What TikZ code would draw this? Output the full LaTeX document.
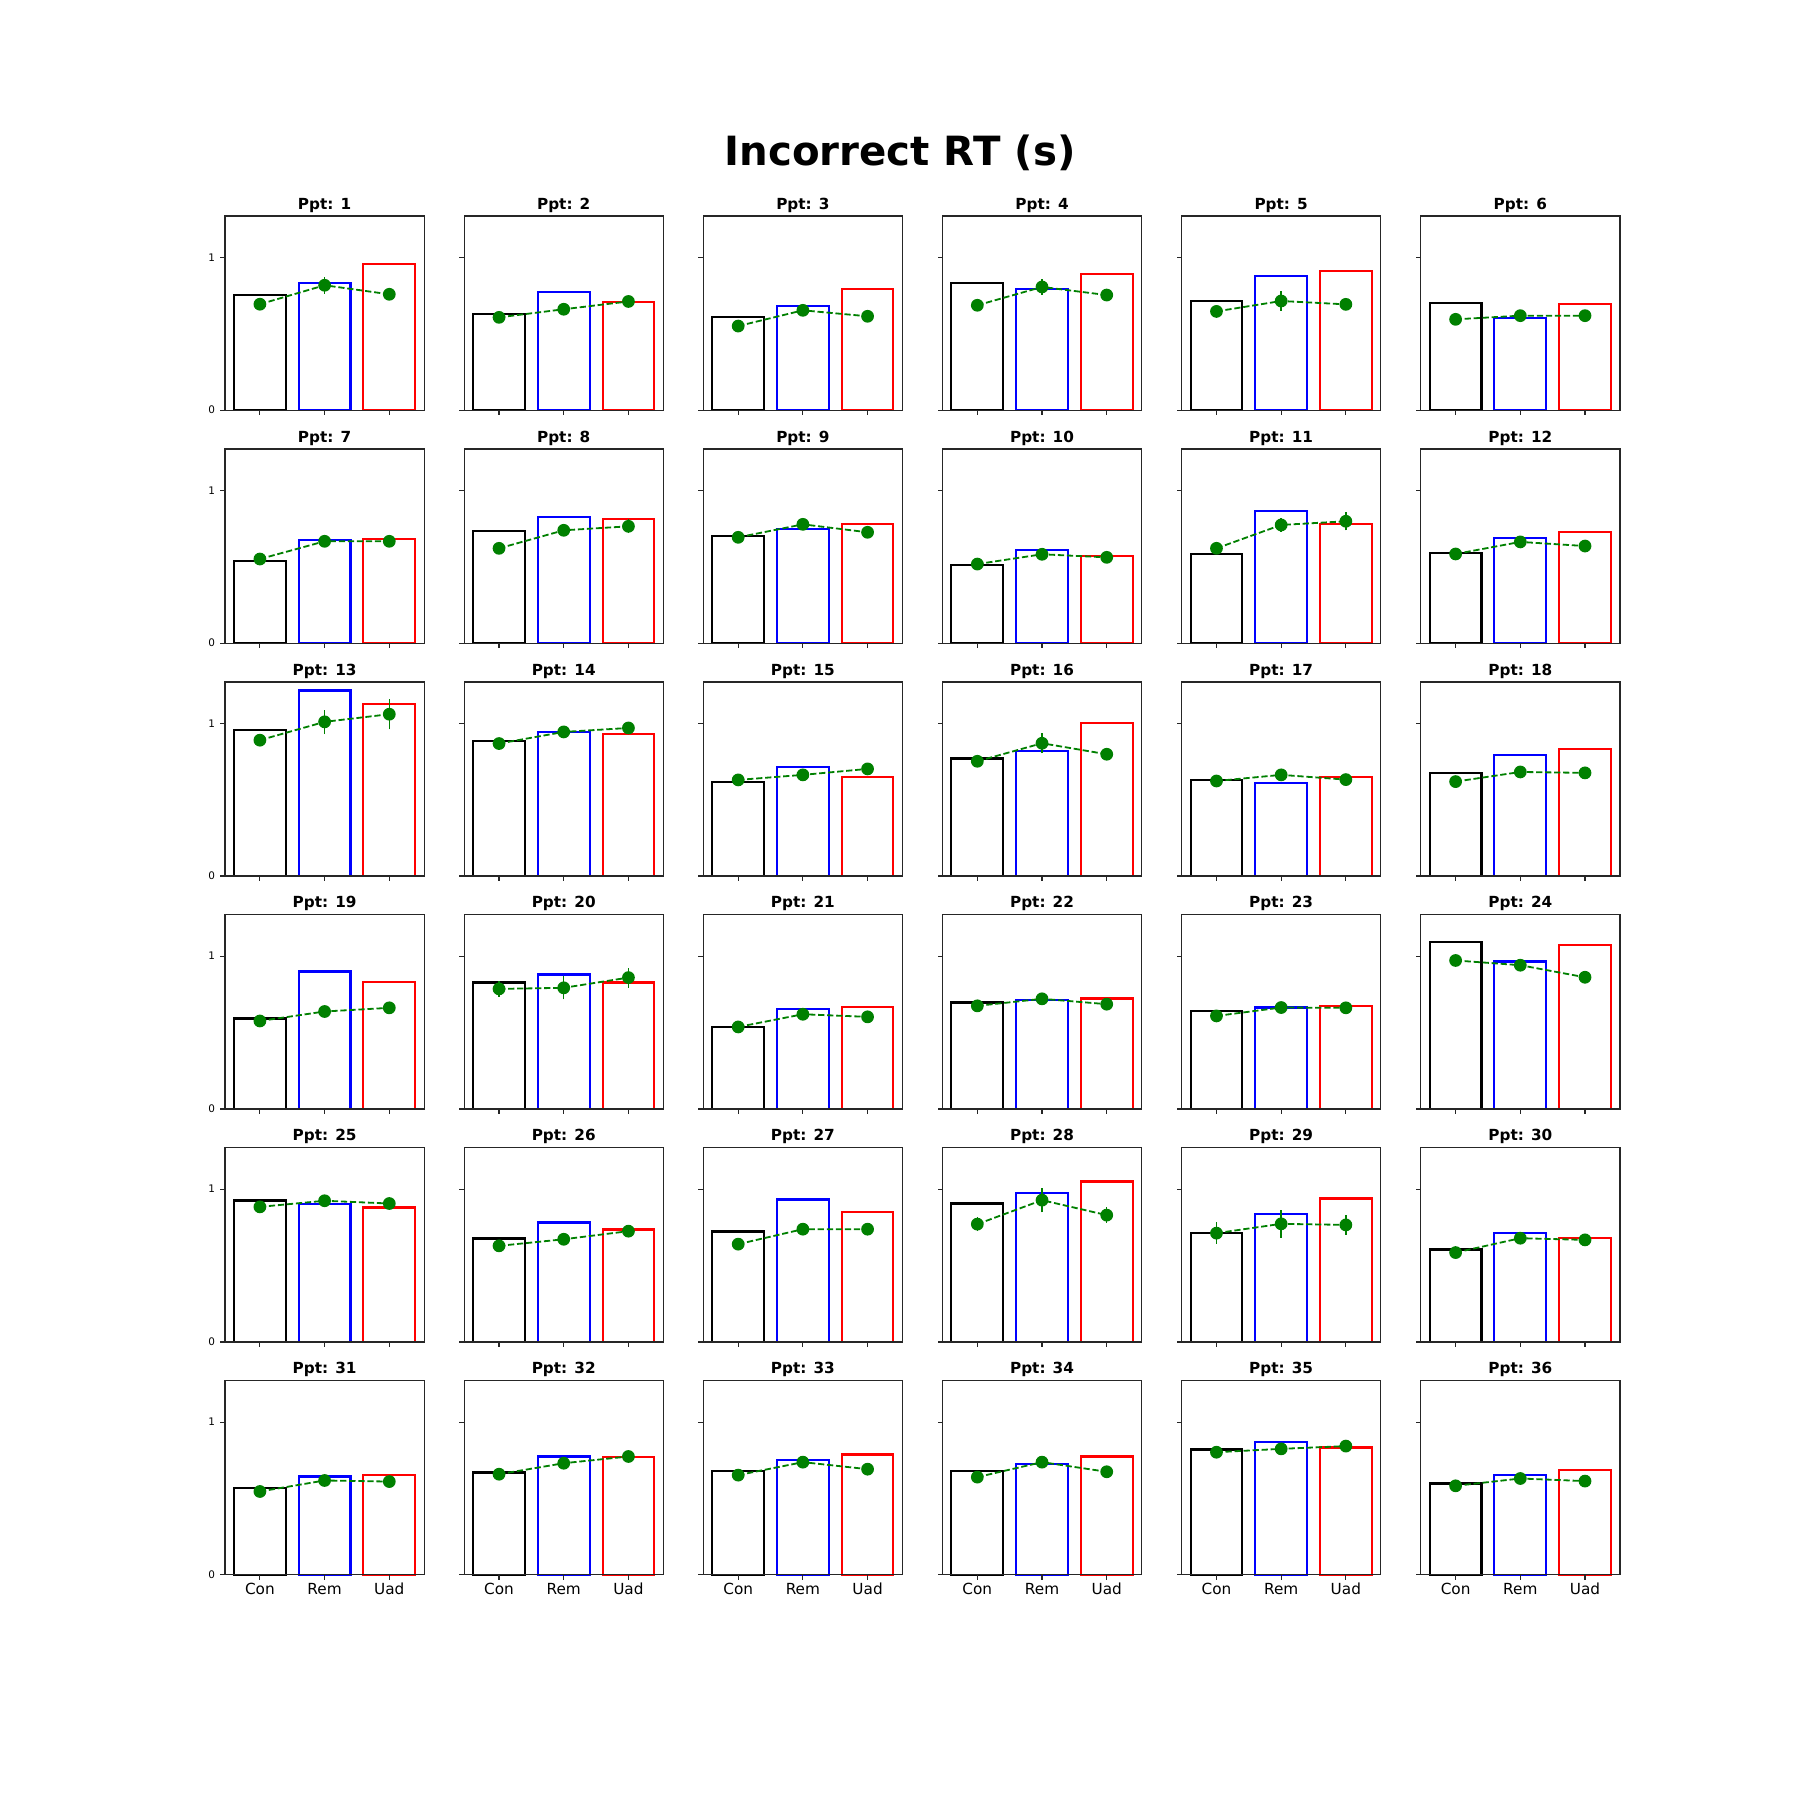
\documentclass[tikz,border=0pt]{standalone}
\usepackage{fontspec}
\setmainfont{DejaVu Sans}
\definecolor{ptgreen}{HTML}{008000}

\begin{document}
\begin{tikzpicture}[x=0.72pt,y=-0.72pt]
        \tikzset{axframe/.style={draw=black!85, line width=0.8pt},
        conbar/.style={draw=black, line width=1.5pt},
        rembar/.style={draw=blue, line width=1.5pt},
        uadbar/.style={draw=red, line width=1.5pt},
        meanline/.style={draw=ptgreen, line width=1.3pt, dash pattern=on 4.5pt off 2pt},
        errbar/.style={draw=ptgreen, line width=1pt},
        meandot/.style={fill=ptgreen},
        suptitle/.style={anchor=base, inner sep=0pt, font=\fontsize{29}{35}\selectfont\bfseries},
        paneltitle/.style={anchor=base, inner sep=0pt, yshift=5pt, font=\fontsize{11}{13}\selectfont\bfseries},
        ylab/.style={anchor=east, inner sep=0pt, xshift=-7pt, font=\fontsize{7.5}{9}\selectfont},
        xlab/.style={anchor=base, inner sep=0pt, yshift=-13.9pt, font=\fontsize{11}{13}\selectfont}
        }
        \path[fill=white, use as bounding box] (0,0) rectangle (1800,1800);
        \node[suptitle] (title) at (900,165) {Incorrect RT (s)};

%% one panel per participant: bars, means, error bars
        \foreach \n/\bc/\br/\bu/\dc/\dr/\du/\ec/\er/\eu in {
            1/.754/.832/.955/.693/.817/.758/.035/.057/.03,
            2/.630/.774/.709/.607/.660/.711/.02/.02/.02,
            3/.611/.683/.795/.550/.653/.614/.02/.02/.02,
            4/.834/.795/.893/.686/.806/.753/.03/.05/.03,
            5/.716/.880/.913/.646/.714/.692/.04/.065/.04,
            6/.703/.605/.692/.594/.618/.618/.03/.03/.03,
            7/.539/.677/.683/.550/.666/.666/.03/.03/.03,
            8/.736/.828/.814/.620/.738/.764/.03/.04/.045,
            9/.703/.749/.782/.692/.777/.725/.03/.03/.03,
            10/.513/.611/.572/.517/.581/.561/.03/.03/.03,
            11/.585/.867/.782/.620/.773/.797/.03/.045/.06,
            12/.592/.690/.729/.583/.662/.635/.03/.03/.03,
            13/.958/1.214/1.124/.889/1.009/1.059/.04/.08/.1,
            14/.886/.945/.932/.867/.943/.969/.03/.03/.03,
            15/.618/.716/.651/.629/.662/.701/.03/.03/.03,
            16/.769/.821/1.004/.751/.869/.797/.03/.065/.03,
            17/.631/.611/.651/.622/.662/.631/.03/.03/.03,
            18/.677/.795/.834/.618/.681/.675/.03/.03/.03,
            19/.592/.900/.834/.576/.638/.662/.03/.03/.03,
            20/.828/.880/.828/.786/.793/.860/.05/.075/.065,
            21/.539/.657/.670/.537/.620/.603/.03/.03/.03,
            22/.697/.716/.723/.675/.721/.686/.03/.03/.03,
            23/.644/.664/.677/.609/.664/.662/.03/.03/.03,
            24/1.090/.965/1.076/.972/.941/.862/.04/.04/.03,
            25/.926/.900/.880/.884/.924/.906/.03/.03/.03,
            26/.677/.782/.736/.629/.672/.725/.03/.03/.03,
            27/.723/.932/.852/.640/.738/.738/.03/.03/.03,
            28/.906/.972/1.050/.771/.928/.830/.045/.08/.05,
            29/.716/.838/.939/.712/.773/.766/.07/.09/.065,
            30/.605/.716/.683/.585/.679/.668/.03/.03/.03,
            31/.566/.644/.651/.546/.618/.611/.03/.03/.03,
            32/.670/.775/.769/.659/.731/.775/.03/.03/.03,
            33/.683/.751/.788/.653/.738/.692/.03/.03/.03,
            34/.683/.723/.775/.640/.738/.675/.03/.03/.03,
            35/.821/.867/.834/.803/.825/.843/.03/.03/.03,
            36/.598/.651/.686/.583/.631/.614/.03/.03/.03}{
            \pgfmathtruncatemacro\col{mod(\n-1,6)}
            \pgfmathtruncatemacro\row{(\n-1)/6}
            \pgfmathsetmacro\px{259.9+\col*239.14}
            \pgfmathsetmacro\py{410.1+\row*232.96}
            \begin{scope}[shift={(\px,\py)}, x=46.58pt, y=110.02pt]
                \draw[conbar] (-0.4,0) rectangle (0.4,\bc);
                \draw[rembar] (0.6,0) rectangle (1.4,\br);
                \draw[uadbar] (1.6,0) rectangle (2.4,\bu);
                \draw[meanline] (0,\dc) -- (1,\dr) -- (2,\du);
                \draw[errbar] (0,{\dc-\ec}) -- (0,{\dc+\ec});
                \draw[errbar] (1,{\dr-\er}) -- (1,{\dr+\er});
                \draw[errbar] (2,{\du-\eu}) -- (2,{\du+\eu});
                \fill[meandot] (0,\dc) circle[radius=4.6pt];
                \fill[meandot] (1,\dr) circle[radius=4.6pt];
                \fill[meandot] (2,\du) circle[radius=4.6pt];
                \draw[axframe] (-0.54,0) rectangle (2.54,1.27);
                \draw[axframe] (-0.54,0) -- ++(-3.5pt,0) (-0.54,1) -- ++(-3.5pt,0);
                \draw[axframe] (0,0) -- ++(0,-3.5pt) (1,0) -- ++(0,-3.5pt) (2,0) -- ++(0,-3.5pt);
                \node[paneltitle] (ppt\n) at (1,1.27) {Ppt: \n};
                \ifnum\col=0
                    \node[ylab] (yzero\n) at (-0.54,0) {0};
                    \node[ylab] (yone\n) at (-0.54,1) {1};
                \fi
                \ifnum\row=5
                    \node[xlab] (con\n) at (0,0) {Con};
                    \node[xlab] (rem\n) at (1,0) {Rem};
                    \node[xlab] (uad\n) at (2,0) {Uad};
                \fi
            \end{scope}
        }
    \end{tikzpicture}
\end{document}
